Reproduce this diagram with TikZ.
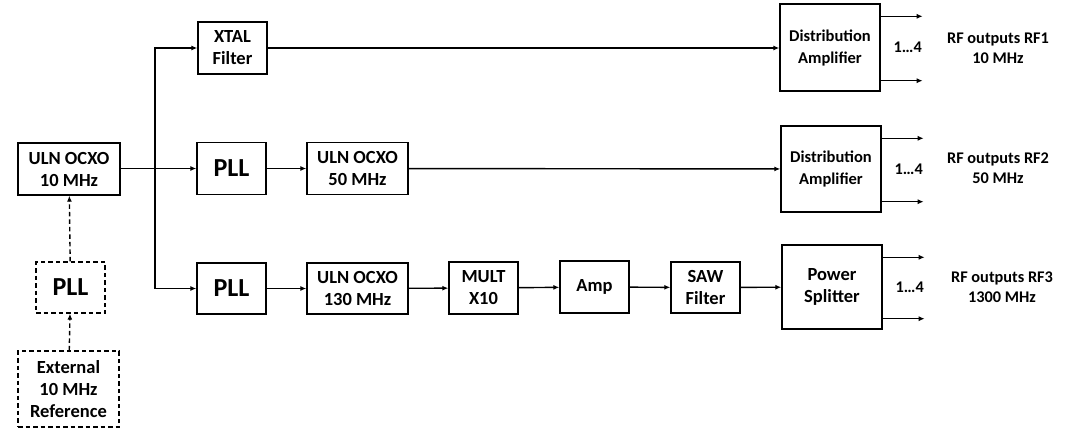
\documentclass[tikz,border=0pt]{standalone}
\usepackage{fontspec}
\setmainfont{Carlito}
\usetikzlibrary{arrows.meta}

\begin{document}
\begin{tikzpicture}[x=1pt,y=-1pt,line width=1.4pt,
		>={Latex[length=6pt,width=5pt]},
		blk/.style={draw,align=center,inner sep=0pt,font=\bfseries\fontsize{18.5}{22}\selectfont},
		dblk/.style={blk,dash pattern=on 4.5pt off 3pt},
		distblk/.style={blk,minimum width=100pt,font=\bfseries\fontsize{16.5}{22}\selectfont},
		outlbl/.style={align=center,font=\bfseries\fontsize{16.3}{20}\selectfont}]
	\useasboundingbox (0,0) rectangle (1067,428);
	
	% Reference chain
	\node[blk, minimum width=102pt, minimum height=52pt] (ocxoTen) at (69,169) {ULN OCXO\\10 MHz};
	\node[dblk, minimum width=69pt, minimum height=51pt, font=\bfseries\fontsize{26}{30}\selectfont] (pllExt) at (70.5,287.5) {PLL};
	\node[dblk, minimum width=101pt, minimum height=76pt] (extRef) at (68.5,389) {External\\10 MHz\\Reference};
	\draw[dash pattern=on 4.5pt off 3pt, ->] (extRef) -- (pllExt);
	\draw[dash pattern=on 4.5pt off 3pt, ->] (pllExt) -- (ocxoTen);
	
	% Top branch (10 MHz)
	\node[blk, minimum width=69pt, minimum height=52pt] (xtal) at (232.5,48) {XTAL\\Filter};
	\node[distblk, minimum height=87pt] (distA) at (830,47.5) {Distribution\\Amplifier};
	
	% Middle branch (50 MHz)
	\node[blk, minimum width=69pt, minimum height=52pt, font=\bfseries\fontsize{26}{30}\selectfont] (pllMid) at (231.5,168.5) {PLL};
	\node[blk, minimum width=101pt, minimum height=52pt] (ocxoMid) at (357.5,168.5) {ULN OCXO\\50 MHz};
	\node[distblk, minimum height=86pt] (distB) at (831,169) {Distribution\\Amplifier};
	
	% Bottom branch (1300 MHz)
	\node[blk, minimum width=69pt, minimum height=51pt, font=\bfseries\fontsize{26}{30}\selectfont] (pllLow) at (231.5,288.5) {PLL};
	\node[blk, minimum width=101pt, minimum height=51pt] (ocxoLow) at (357.5,288.5) {ULN OCXO\\130 MHz};
	\node[blk, minimum width=69pt, minimum height=52pt] (mult) at (483.5,288) {MULT\\X10};
	\node[blk, minimum width=69pt, minimum height=52pt] (amp) at (594.5,287) {Amp};
	\node[blk, minimum width=69pt, minimum height=51pt] (saw) at (705.5,287.5) {SAW\\Filter};
	\node[blk, minimum width=100pt, minimum height=84pt] (pwrSplit) at (832,287) {Power\\Splitter};
	
	% Feed lines
	\coordinate (tap) at (155,168.5);
	\draw[->] (ocxoTen.east |- pllMid) -- (pllMid);
	\draw[->] (tap) |- (xtal);
	\draw[->] (tap) |- (pllLow);
	\draw[->] (xtal) -- (distA.west |- xtal);
	\draw[->] (pllMid) -- (ocxoMid);
	\draw[->] (ocxoMid) -- (distB);
	\draw[->] (pllLow) -- (ocxoLow);
	\draw[->] (ocxoLow) -- (mult);
	\draw[->] (mult) -- (amp);
	\draw[->] (amp) -- (saw);
	\draw[->] (saw) -- (pwrSplit);
	
	% Outputs 1...4
	\foreach \b in {distA,distB,pwrSplit}{
		\draw[->] ([yshift=-13pt]\b.north east) -- ++(42,0);
		\draw[->] ([yshift=11pt]\b.south east) -- ++(42,0);
		\node[outlbl] at ([xshift=27pt]\b.east) {1\ldots4};
	}
	\node[outlbl] (rfA) at (998,48) {RF outputs RF1\\10 MHz};
	\node[outlbl] (rfB) at (998,168) {RF outputs RF2\\50 MHz};
	\node[outlbl] (rfC) at (1002,287) {RF outputs RF3\\1300 MHz};
	
\end{tikzpicture}
\end{document}
